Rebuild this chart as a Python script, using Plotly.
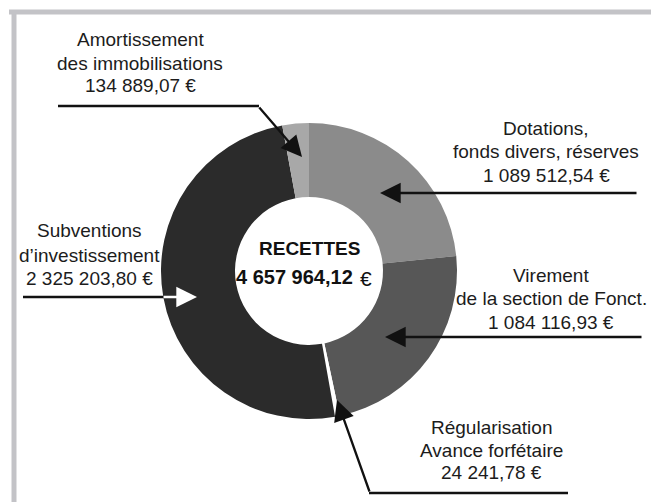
import plotly.graph_objects as go

W, H = 651, 502

# ---- data ----
categories = ["Dotations, fonds divers, réserves",
              "Virement de la section de Fonct.",
              "Régularisation Avance forfétaire",
              "Subventions d'investissement",
              "Amortissement des immobilisations"]
values = [1089512.54, 1084116.93, 24241.78, 2325203.80, 134889.07]
slice_colors = ["#8b8b8b", "#575757", "#ffffff", "#2b2b2b", "#a8a8a8"]

label_lines = {
    "amort": ["Amortissement", "des immobilisations", "134 889,07 €"],
    "dot": ["Dotations,", "fonds divers, réserves", "1 089 512,54 €"],
    "sub": ["Subventions", "d’investissement", "2 325 203,80 €"],
    "vir": ["Virement", "de la section de Fonct.", "1 084 116,93 €"],
    "reg": ["Régularisation", "Avance forfétaire", "24 241,78 €"],
}
center_title = "RECETTES"
center_total = "4 657 964,12"


def px(x):
    return x / W


def py(y):
    return 1 - y / H


# pie geometry (pixels)
cx, cy, R = 309, 271, 148

fig = go.Figure(go.Pie(
    labels=categories, values=values, sort=False, direction="clockwise",
    rotation=0, hole=0.5, textinfo="none", hoverinfo="skip",
    marker=dict(colors=slice_colors, line=dict(width=0)),
    domain=dict(x=[px(cx - R), px(cx + R)], y=[py(cy + R), py(cy - R)]),
    showlegend=False,
))

TXT = "#1c1c1c"
FONT = "Liberation Sans, Arial, Helvetica, sans-serif"

annotations = []
# label blocks: (key, center x, line y's)
blocks = [
    ("amort", 140, [39, 63, 86]),
    ("dot", 546, [128, 152, 175]),
    ("sub", 89, [230, 255, 278]),
    ("vir", 551, [275, 298, 322]),
    ("reg", 492, [427, 450, 472]),
]
for key, x, ys in blocks:
    for line, y in zip(label_lines[key], ys):
        annotations.append(dict(
            x=px(x), y=py(y), xref="paper", yref="paper", text=line,
            showarrow=False, xanchor="center", yanchor="middle",
            font=dict(family=FONT, size=19, color=TXT)))

# center text
annotations.append(dict(x=px(309), y=py(248), xref="paper", yref="paper",
                        text="<b>%s</b>" % center_title, showarrow=False,
                        xanchor="center", yanchor="middle",
                        font=dict(family=FONT, size=19, color="#111")))
annotations.append(dict(x=px(355), y=py(277), xref="paper", yref="paper",
                        text="<b>%s</b>" % center_total, showarrow=False,
                        xanchor="right", yanchor="middle",
                        font=dict(family=FONT, size=20, color="#111")))
annotations.append(dict(x=px(358), y=py(278), xref="paper", yref="paper",
                        text="€", showarrow=False,
                        xanchor="left", yanchor="middle",
                        font=dict(family=FONT, size=21, color="#111")))


def arrow(tail, head, color="#111"):
    return dict(x=px(head[0]), y=py(head[1]), xref="paper", yref="paper",
                ax=tail[0] - head[0], ay=tail[1] - head[1],
                axref="pixel", ayref="pixel", text="", showarrow=True,
                arrowhead=2, arrowsize=1.8, arrowwidth=2.3,
                arrowcolor=color, standoff=0, startstandoff=0)


annotations += [
    arrow((258, 106), (302, 157)),
    arrow((638, 193), (380, 193)),
    arrow((643, 337), (385, 337)),
    arrow((370, 493), (337, 400)),
    arrow((162, 297), (197, 297), color="#ffffff"),
]

LINE = dict(color="#111", width=2.5)
shapes = [
    # frame (top and left)
    dict(type="line", xref="paper", yref="paper", x0=px(9), x1=px(651),
         y0=py(12), y1=py(12), line=dict(color="#c3c3c7", width=5)),
    dict(type="line", xref="paper", yref="paper", x0=px(14), x1=px(14),
         y0=py(10), y1=py(502), line=dict(color="#c3c3c7", width=5)),
    # leader segments
    dict(type="line", xref="paper", yref="paper", x0=px(58), x1=px(259),
         y0=py(106), y1=py(106), line=LINE),
    dict(type="line", xref="paper", yref="paper", x0=px(369), x1=px(568),
         y0=py(493), y1=py(493), line=LINE),
    dict(type="line", xref="paper", yref="paper", x0=px(23), x1=px(164),
         y0=py(297), y1=py(297), line=LINE),
]

fig.update_layout(
    width=W, height=H, autosize=False,
    margin=dict(l=0, r=0, t=0, b=0),
    paper_bgcolor="white", plot_bgcolor="white",
    annotations=annotations, shapes=shapes,
)

fig.write_html(
    "out.html",
    config={"displayModeBar": False},
    post_script="document.body.style.margin='0';"
                "document.body.style.overflow='hidden';",
)
